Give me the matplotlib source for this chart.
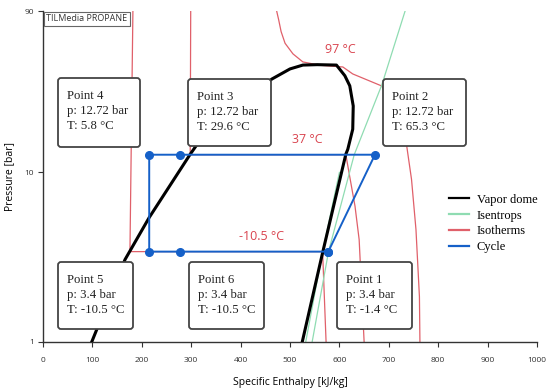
import matplotlib
matplotlib.use("Agg")
import matplotlib.pyplot as plt
from matplotlib.patches import FancyBboxPatch
from matplotlib.lines import Line2D

# ---------------- data ----------------
dome_h = [99, 166, 215, 298, 311, 383, 463, 500, 526, 555, 594, 611, 621, 628, 627, 617, 613, 566, 525]
dome_p = [1, 3.05, 5.41, 12.8, 14.5, 23.0, 35.6, 40.9, 43.1, 43.35, 43.1, 37.3, 32.5, 24.7, 18.0, 13.7, 12.8, 3.35, 1]

iso_m10_h = [182, 176, 566, 573]
iso_m10_p = [90, 3.4, 3.4, 1]
iso_37_h = [299, 298, 613, 631.6, 640, 650]
iso_37_p = [90, 12.72, 12.72, 6.31, 4.0, 1]
iso_97_h = [473, 477, 482, 490, 506, 526, 560, 607, 627, 686, 712, 736, 746, 755, 762, 763]
iso_97_p = [90, 80, 68, 58, 50.2, 45.0, 43.0, 42.0, 38.2, 32.4, 22.1, 14.5, 9.09, 4.59, 1.84, 1]

isen1_h = [545, 578, 630, 686, 733]
isen1_p = [1, 3.4, 12.72, 33, 90]
isen2_h = [532, 566, 600]
isen2_p = [1, 3.4, 10.0]

cycle_h = [577.5, 672, 277, 215, 215, 277, 577.5]
cycle_p = [3.4, 12.72, 12.72, 12.72, 3.4, 3.4, 3.4]

point_names = ["Point 1", "Point 2", "Point 3", "Point 4", "Point 5", "Point 6"]
point_p = ["3.4", "12.72", "12.72", "12.72", "3.4", "3.4"]
point_T = ["-1.4", "65.3", "29.6", "5.8", "-10.5", "-10.5"]

iso_labels = ["97 °C", "37 °C", "-10.5 °C"]
x_ticks = list(range(0, 1001, 100))
y_ticks = [1, 10, 90]

# ---------------- style ----------------
RED = "#e0606a"
RED_TXT = "#d9434e"
GREEN = "#8fdcb2"
BLUE = "#1560c8"

fig = plt.figure(figsize=(5.5, 3.92), dpi=100)
W, H = 550, 392
L, R, T, B = 43, 537, 11, 341.5
ax = fig.add_axes([L / W, 1 - B / H, (R - L) / W, (B - T) / H])

ax.plot(iso_m10_h, iso_m10_p, color=RED, lw=0.9, zorder=2)
ax.plot(iso_37_h, iso_37_p, color=RED, lw=0.9, zorder=2)
ax.plot(iso_97_h, iso_97_p, color=RED, lw=0.9, zorder=2)
ax.plot(isen1_h, isen1_p, color=GREEN, lw=0.9, zorder=2)
ax.plot(isen2_h, isen2_p, color=GREEN, lw=0.9, zorder=2)
ax.plot(dome_h, dome_p, color="black", lw=2.2, zorder=3, solid_joinstyle="round")
ax.plot(cycle_h, cycle_p, color=BLUE, lw=1.4, zorder=4, marker="o", ms=5.5)

ax.set_yscale("log")
ax.set_xlim(0, 1000)
ax.set_ylim(1, 90)
ax.set_xticks(x_ticks)
ax.set_xticklabels([str(v) for v in x_ticks])
ax.set_yticks(y_ticks)
ax.set_yticklabels([str(v) for v in y_ticks])
ax.yaxis.set_minor_locator(matplotlib.ticker.NullLocator())
for s in ["top", "right"]:
    ax.spines[s].set_visible(False)
for s in ["left", "bottom"]:
    ax.spines[s].set_color("#333333")
    ax.spines[s].set_linewidth(1.0)
ax.tick_params(axis="both", labelsize=6, colors="#333333", length=3.5, width=0.8)
ax.tick_params(axis="x", pad=8)
ax.tick_params(axis="y", pad=3)
for lab in ax.get_xticklabels() + ax.get_yticklabels():
    lab.set_family("Open Sans")
ax.set_xlabel("Specific Enthalpy [kJ/kg]", fontsize=7.5, family="Open Sans", labelpad=9)
ax.set_ylabel("Pressure [bar]", fontsize=7.5, family="Open Sans")
ax.yaxis.set_label_coords(-0.056, 0.5)

# isotherm labels (data positions near curves)
ax.text(601, 53, iso_labels[0], color=RED_TXT, fontsize=9, family="Open Sans", ha="center", va="center")
ax.text(536, 15.7, iso_labels[1], color=RED_TXT, fontsize=9, family="Open Sans", ha="center", va="center")
ax.text(443, 4.17, iso_labels[2], color=RED_TXT, fontsize=9, family="Open Sans", ha="center", va="center")

# TILMedia label
ax.text(0.007, 0.99, "TILMedia PROPANE", transform=ax.transAxes, fontsize=6.5, family="Open Sans",
        color="#333333", ha="left", va="top",
        bbox=dict(boxstyle="square,pad=0.25", fc="white", ec="#666666", lw=0.8))

# info boxes (pixel layout: left, top, right, bottom)
boxes = {
    "Point 4": (58, 78, 140, 147),
    "Point 3": (188, 79, 271, 146),
    "Point 2": (383, 79, 466, 146),
    "Point 5": (58, 262, 133, 329),
    "Point 6": (189, 262, 264, 329),
    "Point 1": (337, 262, 412, 329),
}
for name, pp, tt in zip(point_names, point_p, point_T):
    l, t, r, b = boxes[name]
    patch = FancyBboxPatch((l / 100, (H - b) / 100), (r - l) / 100, (b - t) / 100,
                           boxstyle="round,pad=0,rounding_size=0.03",
                           transform=fig.dpi_scale_trans, fc="white", ec="#444444", lw=1.3,
                           zorder=10)
    fig.add_artist(patch)
    txt = f"{name}\np: {pp} bar\nT: {tt} °C"
    fig.text((l + 9) / W, 1 - (t + 12) / H, txt, fontsize=9.2, family="Liberation Serif",
             color="#222222", ha="left", va="top", linespacing=1.33, zorder=11)

handles = [Line2D([], [], color="black", lw=1.6),
           Line2D([], [], color=GREEN, lw=1.6),
           Line2D([], [], color=RED, lw=1.6),
           Line2D([], [], color=BLUE, lw=1.6)]
leg = ax.legend(handles, ["Vapor dome", "Isentrops", "Isotherms", "Cycle"],
                loc="upper left", bbox_to_anchor=(0.812, 0.462), frameon=False,
                prop={"family": "Liberation Serif", "size": 9}, handlelength=1.6,
                handletextpad=0.6, labelspacing=0.3, borderaxespad=0)

fig.savefig("out.png", dpi=100)
